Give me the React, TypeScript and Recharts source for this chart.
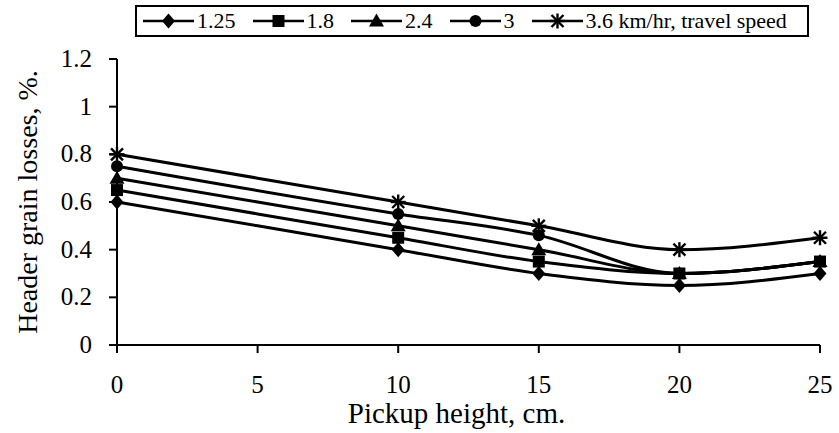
import React from 'react';
import { LineChart, Line, XAxis, YAxis, Label } from 'recharts';

const pickupHeights = [0, 10, 15, 20, 25];
const speed125 = [0.6, 0.4, 0.3, 0.25, 0.3];
const speed18 = [0.65, 0.45, 0.35, 0.3, 0.35];
const speed24 = [0.7, 0.5, 0.4, 0.3, 0.35];
const speed3 = [0.75, 0.55, 0.46, 0.3, 0.35];
const speed36 = [0.8, 0.6, 0.5, 0.4, 0.45];
const xTicks = [0, 5, 10, 15, 20, 25];
const yTicks = [0, 0.2, 0.4, 0.6, 0.8, 1, 1.2];

const seriesNames = ['1.25', '1.8', '2.4', '3', '3.6 km/hr, travel speed'];
const seriesKeys = ['s125', 's18', 's24', 's3', 's36'];
const shapes = ['diamond', 'square', 'triangle', 'circle', 'star'];

const data = pickupHeights.map((h, i) => ({
    h,
    s125: speed125[i],
    s18: speed18[i],
    s24: speed24[i],
    s3: speed3[i],
    s36: speed36[i],
}));

const FONT = '"Liberation Serif", "Times New Roman", serif';

const Marker = ({ shape, cx, cy }: { shape: string; cx: number; cy: number }) => {
    if (shape === 'diamond') {
        return <polygon points={`${cx},${cy - 7.5} ${cx + 6.5},${cy} ${cx},${cy + 7.5} ${cx - 6.5},${cy}`} fill="#000" />;
    }
    if (shape === 'square') {
        return <rect x={cx - 6} y={cy - 6} width={12} height={12} fill="#000" />;
    }
    if (shape === 'triangle') {
        return <polygon points={`${cx},${cy - 7.5} ${cx + 7.5},${cy + 5.5} ${cx - 7.5},${cy + 5.5}`} fill="#000" />;
    }
    if (shape === 'circle') {
        return <circle cx={cx} cy={cy} r={6} fill="#000" />;
    }
    return (
        <g stroke="#000" strokeWidth={2.4}>
            <line x1={cx - 6} y1={cy - 6} x2={cx + 6} y2={cy + 6} />
            <line x1={cx - 6} y1={cy + 6} x2={cx + 6} y2={cy - 6} />
            <line x1={cx} y1={cy - 7.5} x2={cx} y2={cy + 7.5} />
            <line x1={cx - 7.5} y1={cy} x2={cx + 7.5} y2={cy} />
        </g>
    );
};

const makeDot = (shape: string) => (props: any) => {
    const { cx, cy, index } = props;
    if (cx == null || cy == null) return <g key={index} />;
    return <Marker key={index} shape={shape} cx={cx} cy={cy} />;
};

const renderXTick = (props: any) => {
    const { x, y, payload } = props;
    return (
        <text x={x} y={y} dy={18} textAnchor="middle" style={{ fontFamily: FONT, fontSize: 25, fill: '#000' }}>
            {payload.value}
        </text>
    );
};

const renderYTick = (props: any) => {
    const { x, y, payload } = props;
    return (
        <text x={x} y={y} dy={8} textAnchor="end" style={{ fontFamily: FONT, fontSize: 25, fill: '#000' }}>
            {payload.value}
        </text>
    );
};

const renderXTitle = (props: any) => {
    const vb = props.viewBox;
    const cx = vb.x + vb.width / 2 - 12;
    return (
        <text x={cx} y={vb.y + vb.height - 10} textAnchor="middle" style={{ fontFamily: FONT, fontSize: 29, fill: '#000' }}>
            Pickup height, cm.
        </text>
    );
};

const renderYTitle = (props: any) => {
    const vb = props.viewBox;
    const x = vb.x + 37;
    const y = vb.y + vb.height / 2;
    return (
        <text
            x={x}
            y={y}
            transform={`rotate(-90 ${x} ${y})`}
            textAnchor="middle"
            style={{ fontFamily: FONT, fontSize: 28, fill: '#000' }}
        >
            Header grain losses, %.
        </text>
    );
};

const LegendBox = () => (
    <div
        style={{
            position: 'absolute',
            left: 135,
            top: 5,
            width: 664,
            height: 28,
            border: '2px solid #000',
            display: 'flex',
            alignItems: 'center',
            paddingLeft: 6,
            fontFamily: FONT,
            fontSize: 22,
            color: '#000',
            boxSizing: 'content-box',
        }}
    >
        {seriesNames.map((name, i) => (
            <div key={name} style={{ display: 'flex', alignItems: 'center', marginRight: 17 }}>
                <svg width={51} height={20}>
                    <line x1={0} y1={10} x2={51} y2={10} stroke="#000" strokeWidth={2.5} />
                    <Marker shape={shapes[i]} cx={25.5} cy={10} />
                </svg>
                <span style={{ marginLeft: 3, whiteSpace: 'nowrap' }}>{name}</span>
            </div>
        ))}
    </div>
);

export default function App() {
    return (
        <div style={{ position: 'absolute', left: 0, top: 0, width: 839, height: 433, background: '#fff' }}>
            <LineChart
                width={839}
                height={433}
                data={data}
                margin={{ top: 59, right: 19, bottom: 0, left: 0 }}
                style={{ fontFamily: FONT }}
            >
                <XAxis
                    dataKey="h"
                    type="number"
                    domain={[0, 25]}
                    ticks={xTicks}
                    height={88}
                    stroke="#000"
                    strokeWidth={2}
                    tickSize={8}
                    tickMargin={22}
                    tick={renderXTick}
                >
                    <Label content={renderXTitle} />
                </XAxis>
                <YAxis
                    type="number"
                    domain={[0, 1.2]}
                    ticks={yTicks}
                    width={117}
                    stroke="#000"
                    strokeWidth={2}
                    tickSize={8}
                    tickMargin={17}
                    tick={renderYTick}
                >
                    <Label content={renderYTitle} />
                </YAxis>
                {seriesKeys.map((k, i) => (
                    <Line
                        key={k}
                        dataKey={k}
                        name={seriesNames[i]}
                        type="monotone"
                        stroke="#000"
                        strokeWidth={3}
                        dot={makeDot(shapes[i])}
                        activeDot={false}
                        isAnimationActive={false}
                    />
                ))}
            </LineChart>
            <LegendBox />
        </div>
    );
}
